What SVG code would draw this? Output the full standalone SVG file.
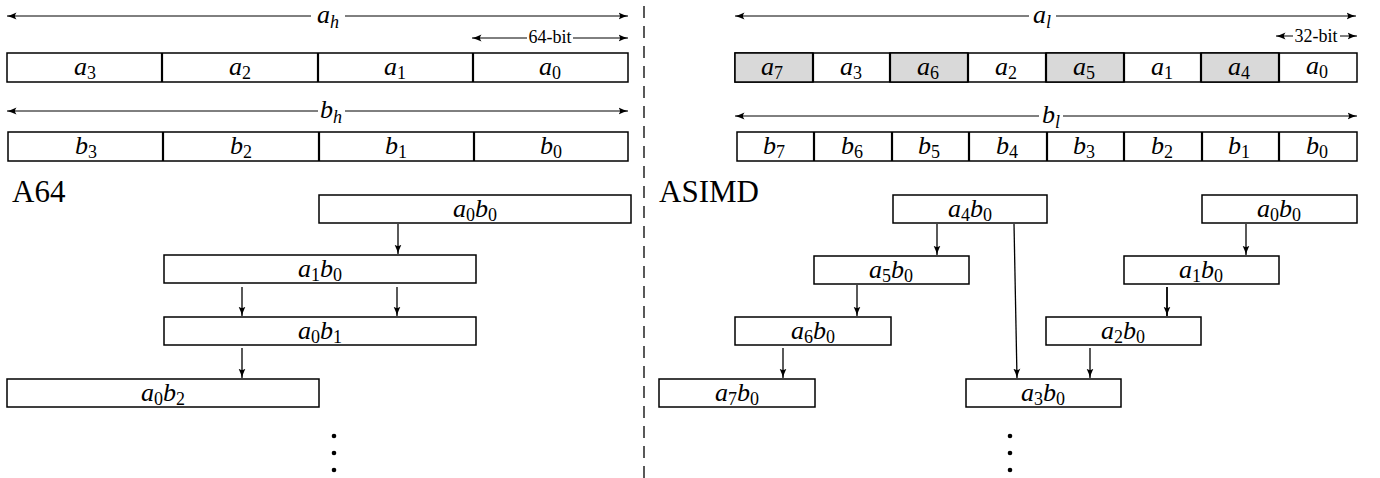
<svg xmlns="http://www.w3.org/2000/svg" width="1380" height="478" viewBox="0 0 1380 478">
<defs>
<marker id="ah" viewBox="0 0 10 8" refX="9.5" refY="4" markerWidth="10" markerHeight="8" markerUnits="userSpaceOnUse" orient="auto-start-reverse">
<path d="M0,0.5 Q5,3 9.5,4 Q5,5 0,7.5 Q3,4 0,0.5 Z" fill="#000"/>
</marker>
</defs>
<style>
.box{fill:#fff;stroke:#000;stroke-width:1.5}
.gray{fill:#d9d9d9;stroke:#000;stroke-width:1.5}
.div{stroke:#000;stroke-width:2.2}
.ln{stroke:#000;stroke-width:1;fill:none}
.ar{stroke:#000;stroke-width:1.3;fill:none;marker-end:url(#ah)}
.m{font-family:"Liberation Serif",serif;font-style:italic;font-size:26px;text-anchor:middle;fill:#000}
.s{font-style:normal;font-size:18px}
.si{font-style:italic;font-size:18px}
.sm{font-family:"Liberation Serif",serif;font-size:18px;text-anchor:middle;fill:#000}
.big{font-family:"Liberation Serif",serif;font-size:31px;fill:#000}
.dot{fill:#000}
</style>
<line x1="644" y1="6" x2="644" y2="478" stroke="#000" stroke-width="1.3" stroke-dasharray="12,8"/>

<g id="left-dims">
<line class="ln" x1="7" y1="16" x2="311" y2="16" style="marker-start:url(#ah)"/>
<line class="ln" x1="345" y1="16" x2="628" y2="16" style="marker-end:url(#ah)"/>
<text class="m" x="328" y="23">a<tspan class="si" dy="5">h</tspan></text>
<line class="ln" x1="472" y1="38" x2="527" y2="38" style="marker-start:url(#ah)"/>
<line class="ln" x1="573" y1="38" x2="628" y2="38" style="marker-end:url(#ah)"/>
<text class="sm" x="550" y="43">64-bit</text>
<line class="ln" x1="7" y1="111" x2="318" y2="111" style="marker-start:url(#ah)"/>
<line class="ln" x1="345" y1="111" x2="628" y2="111" style="marker-end:url(#ah)"/>
<text class="m" x="331" y="118">b<tspan class="si" dy="5">h</tspan></text>
</g>

<g id="a-row-left">
<rect class="box" x="7" y="53" width="621" height="29"/>
<line class="div" x1="162" y1="53" x2="162" y2="82"/>
<line class="div" x1="318" y1="53" x2="318" y2="82"/>
<line class="div" x1="473" y1="53" x2="473" y2="82"/>
<text class="m" x="85" y="75">a<tspan class="s" dy="4">3</tspan></text>
<text class="m" x="240" y="75">a<tspan class="s" dy="4">2</tspan></text>
<text class="m" x="395" y="75">a<tspan class="s" dy="4">1</tspan></text>
<text class="m" x="550" y="75">a<tspan class="s" dy="4">0</tspan></text>
</g>

<g id="b-row-left">
<rect class="box" x="8" y="132" width="620" height="29"/>
<line class="div" x1="163" y1="132" x2="163" y2="161"/>
<line class="div" x1="319" y1="132" x2="319" y2="161"/>
<line class="div" x1="474" y1="132" x2="474" y2="161"/>
<text class="m" x="86" y="154">b<tspan class="s" dy="4">3</tspan></text>
<text class="m" x="241" y="154">b<tspan class="s" dy="4">2</tspan></text>
<text class="m" x="396" y="154">b<tspan class="s" dy="4">1</tspan></text>
<text class="m" x="551" y="154">b<tspan class="s" dy="4">0</tspan></text>
</g>

<text class="big" x="12" y="202">A64</text>
<text class="big" x="659" y="202">ASIMD</text>

<g id="L-a0b0"><rect class="box" x="319" y="195" width="312" height="28"/><text class="m" x="475" y="217">a<tspan class="s" dy="4">0</tspan><tspan dy="-4">b</tspan><tspan class="s" dy="4">0</tspan></text></g>
<g id="L-a1b0"><rect class="box" x="164" y="255" width="312" height="28"/><text class="m" x="320" y="277">a<tspan class="s" dy="4">1</tspan><tspan dy="-4">b</tspan><tspan class="s" dy="4">0</tspan></text></g>
<g id="L-a0b1"><rect class="box" x="164" y="317" width="312" height="28"/><text class="m" x="320" y="339">a<tspan class="s" dy="4">0</tspan><tspan dy="-4">b</tspan><tspan class="s" dy="4">1</tspan></text></g>
<g id="L-a0b2"><rect class="box" x="7" y="379" width="312" height="28"/><text class="m" x="163" y="401">a<tspan class="s" dy="4">0</tspan><tspan dy="-4">b</tspan><tspan class="s" dy="4">2</tspan></text></g>

<g id="right-dims">
<line class="ln" x1="735" y1="16" x2="1029" y2="16" style="marker-start:url(#ah)"/>
<line class="ln" x1="1056" y1="16" x2="1356" y2="16" style="marker-end:url(#ah)"/>
<text class="m" x="1042" y="23">a<tspan class="si" dy="5">l</tspan></text>
<line class="ln" x1="1276" y1="36" x2="1293" y2="36" style="marker-start:url(#ah)"/>
<line class="ln" x1="1340" y1="36" x2="1357" y2="36" style="marker-end:url(#ah)"/>
<text class="sm" x="1316" y="42">32-bit</text>
<line class="ln" x1="735" y1="116" x2="1039" y2="116" style="marker-start:url(#ah)"/>
<line class="ln" x1="1063" y1="116" x2="1357" y2="116" style="marker-end:url(#ah)"/>
<text class="m" x="1051" y="123">b<tspan class="si" dy="5">l</tspan></text>
</g>

<g id="a-row-right">
<rect class="box" x="735" y="53" width="622" height="29"/>
<rect class="gray" x="735" y="53" width="78" height="29"/>
<rect class="gray" x="890" y="53" width="78" height="29"/>
<rect class="gray" x="1046" y="53" width="78" height="29"/>
<rect class="gray" x="1201" y="53" width="78" height="29"/>
<line class="div" x1="813" y1="53" x2="813" y2="82"/>
<line class="div" x1="890" y1="53" x2="890" y2="82"/>
<line class="div" x1="968" y1="53" x2="968" y2="82"/>
<line class="div" x1="1046" y1="53" x2="1046" y2="82"/>
<line class="div" x1="1124" y1="53" x2="1124" y2="82"/>
<line class="div" x1="1201" y1="53" x2="1201" y2="82"/>
<line class="div" x1="1279" y1="53" x2="1279" y2="82"/>
<text class="m" x="772" y="75">a<tspan class="s" dy="4">7</tspan></text>
<text class="m" x="851" y="75">a<tspan class="s" dy="4">3</tspan></text>
<text class="m" x="928" y="75">a<tspan class="s" dy="4">6</tspan></text>
<text class="m" x="1006" y="75">a<tspan class="s" dy="4">2</tspan></text>
<text class="m" x="1084" y="75">a<tspan class="s" dy="4">5</tspan></text>
<text class="m" x="1162" y="75">a<tspan class="s" dy="4">1</tspan></text>
<text class="m" x="1239" y="75">a<tspan class="s" dy="4">4</tspan></text>
<text class="m" x="1317" y="74">a<tspan class="s" dy="4">0</tspan></text>
</g>

<g id="b-row-right">
<rect class="box" x="737" y="132" width="620" height="29"/>
<line class="div" x1="814" y1="132" x2="814" y2="161"/>
<line class="div" x1="892" y1="132" x2="892" y2="161"/>
<line class="div" x1="969" y1="132" x2="969" y2="161"/>
<line class="div" x1="1047" y1="132" x2="1047" y2="161"/>
<line class="div" x1="1124" y1="132" x2="1124" y2="161"/>
<line class="div" x1="1202" y1="132" x2="1202" y2="161"/>
<line class="div" x1="1279" y1="132" x2="1279" y2="161"/>
<text class="m" x="774" y="154">b<tspan class="s" dy="4">7</tspan></text>
<text class="m" x="852" y="154">b<tspan class="s" dy="4">6</tspan></text>
<text class="m" x="929" y="154">b<tspan class="s" dy="4">5</tspan></text>
<text class="m" x="1007" y="154">b<tspan class="s" dy="4">4</tspan></text>
<text class="m" x="1084" y="154">b<tspan class="s" dy="4">3</tspan></text>
<text class="m" x="1162" y="154">b<tspan class="s" dy="4">2</tspan></text>
<text class="m" x="1239" y="154">b<tspan class="s" dy="4">1</tspan></text>
<text class="m" x="1317" y="154">b<tspan class="s" dy="4">0</tspan></text>
</g>

<g id="R-a4b0"><rect class="box" x="893" y="195" width="154" height="28"/><text class="m" x="970" y="217">a<tspan class="s" dy="4">4</tspan><tspan dy="-4">b</tspan><tspan class="s" dy="4">0</tspan></text></g>
<g id="R-a0b0"><rect class="box" x="1202" y="195" width="155" height="28"/><text class="m" x="1279" y="217">a<tspan class="s" dy="4">0</tspan><tspan dy="-4">b</tspan><tspan class="s" dy="4">0</tspan></text></g>
<g id="R-a5b0"><rect class="box" x="814" y="256" width="155" height="28"/><text class="m" x="891" y="278">a<tspan class="s" dy="4">5</tspan><tspan dy="-4">b</tspan><tspan class="s" dy="4">0</tspan></text></g>
<g id="R-a1b0"><rect class="box" x="1124" y="256" width="155" height="28"/><text class="m" x="1201" y="278">a<tspan class="s" dy="4">1</tspan><tspan dy="-4">b</tspan><tspan class="s" dy="4">0</tspan></text></g>
<g id="R-a6b0"><rect class="box" x="735" y="317" width="156" height="28"/><text class="m" x="813" y="339">a<tspan class="s" dy="4">6</tspan><tspan dy="-4">b</tspan><tspan class="s" dy="4">0</tspan></text></g>
<g id="R-a2b0"><rect class="box" x="1046" y="317" width="155" height="28"/><text class="m" x="1123" y="339">a<tspan class="s" dy="4">2</tspan><tspan dy="-4">b</tspan><tspan class="s" dy="4">0</tspan></text></g>
<g id="R-a7b0"><rect class="box" x="659" y="379" width="156" height="28"/><text class="m" x="737" y="401">a<tspan class="s" dy="4">7</tspan><tspan dy="-4">b</tspan><tspan class="s" dy="4">0</tspan></text></g>
<g id="R-a3b0"><rect class="box" x="966" y="379" width="155" height="28"/><text class="m" x="1043" y="401">a<tspan class="s" dy="4">3</tspan><tspan dy="-4">b</tspan><tspan class="s" dy="4">0</tspan></text></g>

<g id="connectors">
<line class="ar" x1="398" y1="224" x2="398" y2="254"/>
<line class="ar" x1="242" y1="287" x2="242" y2="316"/>
<line class="ar" x1="397" y1="287" x2="397" y2="316"/>
<line class="ar" x1="242" y1="348" x2="242" y2="378"/>
<line class="ar" x1="937" y1="224" x2="937" y2="255"/>
<line class="ar" x1="857" y1="285" x2="857" y2="316"/>
<line class="ar" x1="783" y1="348" x2="783" y2="378"/>
<line class="ar" x1="1014" y1="224" x2="1017" y2="378"/>
<line class="ar" x1="1246" y1="224" x2="1246" y2="255"/>
<line class="ar" x1="1167" y1="287" x2="1167" y2="316" style="stroke-width:1.8"/>
<line class="ar" x1="1090" y1="348" x2="1090" y2="378"/>
</g>

<g id="dots">
<circle class="dot" cx="334" cy="436" r="2.3"/>
<circle class="dot" cx="334" cy="453" r="2.3"/>
<circle class="dot" cx="334" cy="470" r="2.3"/>
<circle class="dot" cx="1010" cy="436" r="2.3"/>
<circle class="dot" cx="1010" cy="453" r="2.3"/>
<circle class="dot" cx="1010" cy="470" r="2.3"/>
</g>
</svg>
